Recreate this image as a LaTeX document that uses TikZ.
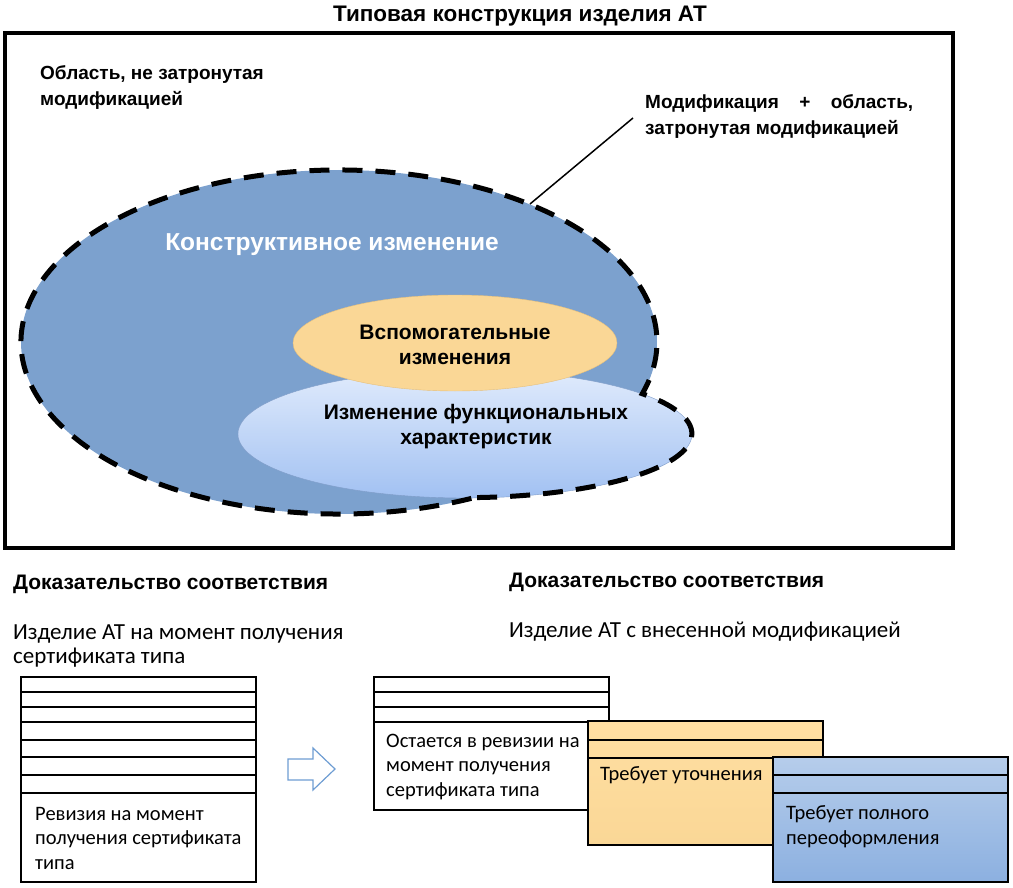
\documentclass[tikz,border=0pt]{standalone}
\usepackage{fontspec}
\setmainfont{Liberation Sans}
\newfontfamily\calfont{Carlito}

\definecolor{steelfill}{HTML}{7CA1CE}
\definecolor{paleblue}{HTML}{E0EBFC}
\definecolor{midblue}{HTML}{A2C1F2}
\definecolor{skyedge}{HTML}{7F9CC8}
\definecolor{sandfill}{HTML}{FAD796}
\definecolor{sandedge}{HTML}{E6C07C}
\definecolor{sandtop}{HTML}{FFDFA2}
\definecolor{boxbluetop}{HTML}{B6CDEB}
\definecolor{boxbluebot}{HTML}{8CB0E0}
\definecolor{arrowblue}{HTML}{6E9DD3}

\begin{document}
\begin{tikzpicture}[x=1pt,y=-1pt,
    lbl/.style={font=\bfseries\fontsize{19}{26}\selectfont, align=left, anchor=base west, inner sep=0pt},
    inlbl/.style={font=\bfseries\fontsize{21}{25}\selectfont, align=center, inner sep=0pt},
    hdr/.style={font=\bfseries\fontsize{21}{24}\selectfont, anchor=base west, inner sep=0pt},
    caltxt/.style={font=\calfont\fontsize{23}{24}\selectfont, align=left, anchor=base west, inner sep=0pt},
    boxtxt/.style={font=\calfont\fontsize{20.5}{24.5}\selectfont, align=left, anchor=base west, inner sep=0pt},
    boxline/.style={line width=1.6pt}]
    \useasboundingbox (0,0) rectangle (1013,888);

    %% title and frame
    \node[anchor=base, font=\bfseries\fontsize{22.5}{26}\selectfont, inner sep=0pt] (title) at (520,22) {Типовая конструкция изделия АТ};
    \draw[line width=4pt] (5,33) rectangle (953,548);
    %% (base of a two-line node = its last line)
    \node[lbl] (untouched) at (40,106) {Область, не затронутая\\модификацией};
    \node[lbl] (touched) at (645,135) {\makebox[268pt][s]{Модификация + область,}\\затронутая модификацией};

    %% ellipses
    \fill[steelfill] (339,342) ellipse [x radius=318, y radius=172];
    \draw[skyedge, thin, top color=paleblue, bottom color=midblue] (465,434) ellipse [x radius=227, y radius=64];
    \draw[sandedge, thin, fill=sandfill] (455,343) ellipse [x radius=162, y radius=48];
    %% dashed outline round both (angles by hand)
    \draw[line width=5pt, dash pattern=on 20pt off 13pt] (339,342) ++(65.4:318 and 172)
        arc[start angle=65.4, end angle=377.5, x radius=318, y radius=172]
        arc[start angle=-38.6, end angle=88.5, x radius=227, y radius=64] -- cycle;
    \node[font=\bfseries\fontsize{24.5}{28}\selectfont, text=white, inner sep=0pt] (constr) at (332,245) {Конструктивное изменение};
    \node[inlbl] (aux) at (455,345) {Вспомогательные\\изменения};
    \node[inlbl] (func) at (476,427) {Изменение функциональных\\характеристик};

    %% leader line
    \coordinate (leadtop) at (633,118);
    \coordinate (leadtip) at (530,204);
    \draw[line width=1.5pt] (leadtop) -- (leadtip);

    %% lower part: headings
    \node[hdr] (proofA) at (13,589) {Доказательство соответствия};
    \node[hdr] (proofB) at (509,587) {Доказательство соответствия};
    \node[caltxt] (stateA) at (13,663) {Изделие АТ на момент получения\\сертификата типа};
    \node[caltxt] (stateB) at (509,637) {Изделие АТ с внесенной модификацией};

    %% left record
    \draw[boxline, fill=white] (21,677) rectangle (256,882);
    \foreach \y in {692,707,722,740,757,775,793}
        \draw[boxline] (21,\y) -- (256,\y);
    \node[boxtxt] (revA) at (35,869) {Ревизия на момент\\получения сертификата\\типа};

    %% arrow
    \draw[arrowblue, line width=1.2pt, fill=white] (288,759) -- (313,759) -- (313,748) -- (335,769)
        -- (313,790) -- (313,780) -- (288,780) -- cycle;

    %% right records
    \draw[boxline, fill=white] (374,677) rectangle (609,810);
    \foreach \y in {692,707,722}
        \draw[boxline] (374,\y) -- (609,\y);
    \node[boxtxt] (keep) at (386,796) {Остается в ревизии на\\момент получения\\сертификата типа};

    \draw[boxline, top color=sandtop, bottom color=sandfill] (588,721) rectangle (823,845);
    \foreach \y in {740,758}
        \draw[boxline] (588,\y) -- (823,\y);
    \node[boxtxt] (refine) at (600,780) {Требует уточнения};

    \draw[boxline, top color=boxbluetop, bottom color=boxbluebot] (773,757) rectangle (1008,882);
    \foreach \y in {775,793}
        \draw[boxline] (773,\y) -- (1008,\y);
    \node[boxtxt] (redo) at (786,844) {Требует полного\\переоформления};
\end{tikzpicture}
\end{document}
